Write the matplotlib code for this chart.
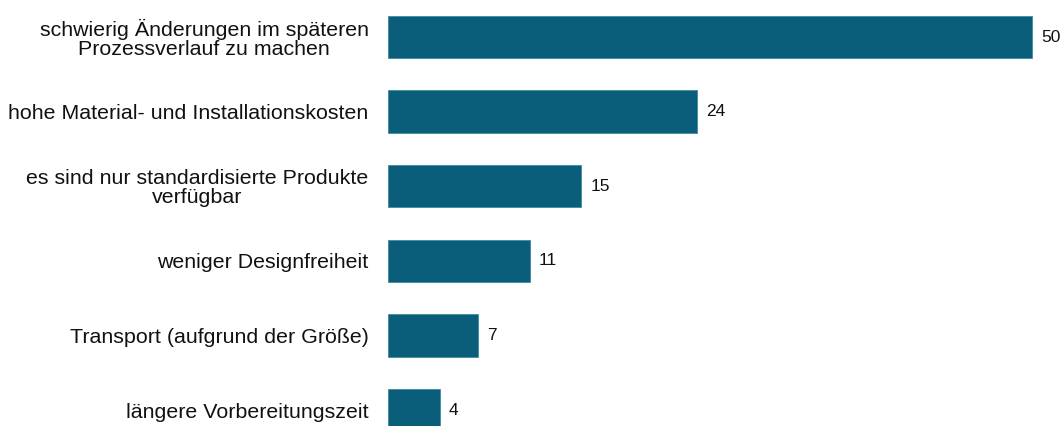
import matplotlib.pyplot as plt

labels = [
    "schwierig Änderungen im späteren\nProzessverlauf zu machen",
    "hohe Material- und Installationskosten",
    "es sind nur standardisierte Produkte\nverfügbar",
    "weniger Designfreiheit",
    "Transport (aufgrund der Größe)",
    "längere Vorbereitungszeit",
]
values = [50, 24, 15, 11, 7, 4]

plt.rcParams['font.family'] = ['Liberation Sans', 'DejaVu Sans']

fig = plt.figure(figsize=(10.62, 4.26), dpi=100)
# axes placed so that bar 0 starts at x=388px, bars span full height
ax = fig.add_axes([388 / 1062, 0, 670 / 1062, 1])

pos = list(range(len(values)))
ax.barh(pos, values, height=0.57, color='#0b5e7a', edgecolor='#3d8aa3', linewidth=0.6)
for p, v in zip(pos, values):
    ax.text(v + 0.7, p, str(v), va='center', ha='left', fontsize=12.5, color='#111111')

ax.set_xlim(0, 52)
ax.set_ylim(5.214, -0.496)
ax.set_yticks(pos)
ax.set_yticklabels(labels, fontsize=15.4, color='#111111')
for t in ax.get_yticklabels():
    t.set_multialignment('center')
    t.set_linespacing(1.0)
ax.tick_params(axis='y', length=0, pad=14)
ax.set_xticks([])
for s in ax.spines.values():
    s.set_visible(False)

fig.savefig('out.png', dpi=100)
